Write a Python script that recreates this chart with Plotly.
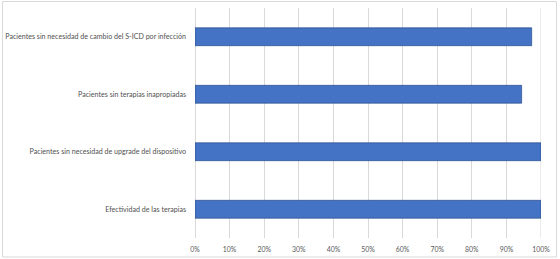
import plotly.graph_objects as go

categories = [
    "Pacientes sin necesidad de cambio del S-ICD por infección",
    "Pacientes sin terapias inapropiadas",
    "Pacientes sin necesidad de upgrade del dispositivo",
    "Efectividad de las terapias",
]
values = [0.973, 0.944, 1.0, 1.0]
tick_vals = [i / 10 for i in range(11)]
tick_text = [f"{i*10}%" for i in range(11)]

W, H = 560, 259
L, R, T, B = 194.5, 18.5, 8, 21
pw, ph = W - L - R, H - T - B

fig = go.Figure(go.Bar(
    x=values, y=categories, orientation="h",
    marker=dict(color="#4472C4", line=dict(color="#2F528F", width=0.75)),
    width=0.31,
))

font = dict(family="Lato, Carlito, Liberation Sans, sans-serif", size=7.1, color="#505050")

fig.update_layout(
    width=W, height=H,
    margin=dict(l=L, r=R, t=T, b=B, autoexpand=False),
    paper_bgcolor="white", plot_bgcolor="white",
    showlegend=False,
    font=font,
    xaxis=dict(range=[0, 1], tickvals=tick_vals, ticktext=tick_text,
               tickfont=dict(size=6.9, color="#595959"),
               showgrid=True, gridcolor="#d9d9d9", gridwidth=1,
               zeroline=True, zerolinecolor="#d9d9d9", zerolinewidth=1,
               showline=False, ticks="", ticklabelstandoff=6, fixedrange=True),
    yaxis=dict(autorange="reversed", showgrid=False, zeroline=False,
               showline=False, ticks="", ticklabelstandoff=8, fixedrange=True),
    shapes=[
        dict(type="rect", xref="paper", yref="paper",
             x0=(1.5 - L) / pw, x1=(557 - L) / pw,
             y0=(H - B - 257) / ph, y1=(H - B - 1.5) / ph,
             line=dict(color="#d9d9d9", width=1), fillcolor="rgba(0,0,0,0)", layer="below"),
        dict(type="line", xref="x", yref="paper", x0=1, x1=1, y0=0, y1=1,
             line=dict(color="#d9d9d9", width=1), layer="below"),
    ],
)

fig.write_html("out.html", config={"displayModeBar": False},
               post_script="document.body.style.margin='0';document.body.style.overflow='hidden';")
